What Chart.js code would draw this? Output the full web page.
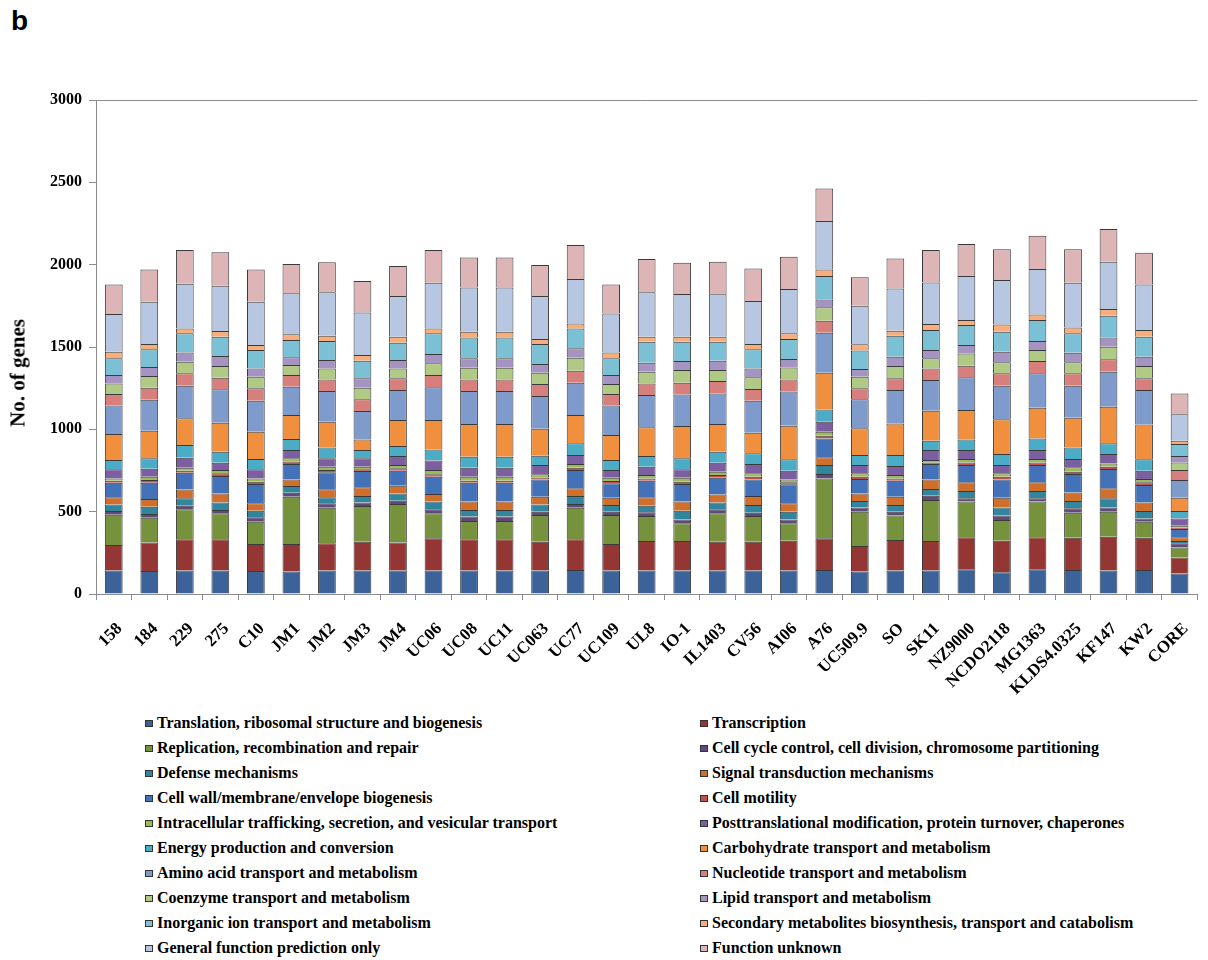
<!DOCTYPE html>
<html>
<head>
<meta charset="utf-8">
<script src="https://cdn.jsdelivr.net/npm/chart.js@4.4.1/dist/chart.umd.min.js"></script>
<style>
  html, body { margin:0; padding:0; background:#fff; overflow:hidden; width:1208px; height:960px; }
  #wrap { position:absolute; left:0; top:0; width:1213px; height:710px; }
  #tag { position:absolute; left:11px; top:5px; font:bold 28px "Liberation Sans", Arial, sans-serif; }
  #ytitle { position:absolute; left:18px; top:373px; transform:translate(-50%,-50%) rotate(-90deg);
            font:bold 21px "Liberation Serif", "Times New Roman", serif; white-space:nowrap; }
  #legend { position:absolute; left:145px; top:710px; display:grid; grid-template-columns:555px 500px;
            font:bold 16px "Liberation Serif", "Times New Roman", serif; }
  #legend div { height:25px; line-height:25px; white-space:nowrap; }
  #legend span.box { display:inline-block; width:6px; height:5px; border:1px solid #333;
                     margin-right:4px; vertical-align:middle; position:relative; top:-1px; }
</style>
</head>
<body>
<div id="tag">b</div>
<div id="wrap"><canvas id="stage" width="1213" height="710"></canvas></div>
<div id="ytitle">No. of genes</div>
<div id="legend"></div>
<script>
// strains
const strains = ['158','184','229','275','C10','JM1','JM2','JM3','JM4','UC06','UC08','UC11','UC063','UC77','UC109',
  'UL8','IO-1','IL1403','CV56','AI06','A76','UC509.9','SO','SK11','NZ9000','NCDO2118','MG1363','KLDS4.0325','KF147','KW2','CORE'];

// COG categories (bottom to top)
const translation = [142,140,142,142,140,136,142,142,142,142,142,142,142,146,142,142,142,142,142,142,146,136,142,142,150,132,150,146,142,146,125];
const transcription = [156,172,190,190,164,168,166,176,170,196,190,190,176,186,162,180,180,176,176,182,192,155,186,180,194,192,194,196,206,196,96];
const replication = [184,151,182,158,135,287,216,216,234,152,111,111,162,192,176,152,107,172,156,105,364,209,148,249,217,125,217,152,152,97,62];
const cellCycle = [22,23,22,20,27,24,27,21,21,24,27,27,20,22,20,22,24,24,20,24,27,26,24,26,20,27,20,26,26,20,25];
const defense = [40,44,45,45,40,41,36,40,44,47,40,40,44,49,40,40,53,41,46,47,54,39,40,41,44,50,44,45,55,45,14];
const signal = [43,47,53,56,45,40,49,53,47,46,51,51,47,47,45,51,55,50,55,51,47,46,51,58,53,59,53,52,61,51,22];
const cellWall = [89,99,103,106,117,93,103,99,91,105,115,115,105,111,87,101,107,101,101,115,115,87,97,93,105,111,105,112,117,107,51];
const motility = [12,16,12,16,14,15,14,10,14,15,12,12,12,14,14,14,14,17,16,12,16,14,14,10,16,16,16,14,14,16,8];
const intracellular = [14,20,18,20,20,20,20,16,20,26,24,24,19,22,20,21,24,20,21,18,25,21,21,15,21,21,21,26,20,20,12];
const posttrans = [55,49,61,44,55,50,51,51,55,57,55,55,56,55,47,50,51,54,56,53,60,50,54,60,54,50,54,51,57,51,44];
const energy = [57,63,77,67,63,67,65,50,61,68,67,67,57,71,61,65,67,67,65,69,75,61,67,57,65,67,71,69,65,69,45];
const carbohydrate = [158,168,162,176,166,146,157,65,158,179,198,198,164,172,151,174,196,168,126,204,223,162,192,182,178,211,186,182,222,212,81];
const aminoAcid = [172,188,198,203,188,172,187,172,182,198,201,201,198,196,179,196,192,186,194,207,243,176,203,186,199,204,209,194,213,209,107];
const nucleotide = [70,73,75,71,75,71,70,71,71,75,70,70,73,73,70,71,71,75,71,74,73,67,71,71,70,75,75,75,75,71,61];
const coenzyme = [65,71,71,70,71,60,67,71,60,71,71,71,69,79,61,71,77,67,71,73,81,71,74,61,75,67,67,67,77,74,46];
const lipid = [51,54,56,61,50,47,51,57,51,56,57,57,53,57,55,55,55,57,54,51,48,46,57,51,51,64,54,58,56,57,39];
const inorganic = [101,108,116,118,112,105,115,107,105,126,127,127,121,121,101,127,117,115,116,121,142,112,128,121,121,122,128,118,132,122,73];
const secondary = [40,32,30,34,30,35,33,34,37,30,35,35,30,30,36,31,31,31,32,35,40,38,30,36,31,44,34,36,41,40,20];
const general = [229,257,271,275,263,249,263,259,246,277,269,269,261,270,237,269,259,257,261,269,294,235,257,253,267,270,275,271,287,277,160];
const unknown = [180,196,205,203,196,178,182,191,183,199,182,182,189,206,176,202,190,198,198,196,198,172,182,197,194,186,203,203,198,193,127];

const yTicks = [0,500,1000,1500,2000,2500,3000];

const series = [
  ['Translation, ribosomal structure and biogenesis', translation, '#3b6399'],
  ['Transcription', transcription, '#943634'],
  ['Replication, recombination and repair', replication, '#76923c'],
  ['Cell cycle control, cell division, chromosome partitioning', cellCycle, '#604a7b'],
  ['Defense mechanisms', defense, '#31859c'],
  ['Signal transduction mechanisms', signal, '#d06f2c'],
  ['Cell wall/membrane/envelope biogenesis', cellWall, '#4472b9'],
  ['Cell motility', motility, '#c0504d'],
  ['Intracellular trafficking, secretion, and vesicular transport', intracellular, '#9bbb59'],
  ['Posttranslational modification, protein turnover, chaperones', posttrans, '#7b5fa0'],
  ['Energy production and conversion', energy, '#4bacc6'],
  ['Carbohydrate transport and metabolism', carbohydrate, '#f0903f'],
  ['Amino acid transport and metabolism', aminoAcid, '#7f9bcc'],
  ['Nucleotide transport and metabolism', nucleotide, '#d67f7d'],
  ['Coenzyme transport and metabolism', coenzyme, '#b0ca86'],
  ['Lipid transport and metabolism', lipid, '#a593c2'],
  ['Inorganic ion transport and metabolism', inorganic, '#7bc0d4'],
  ['Secondary metabolites biosynthesis, transport and catabolism', secondary, '#f8ae7c'],
  ['General function prediction only', general, '#b8c7e1'],
  ['Function unknown', unknown, '#deb5b6']
];

const serif = '"Liberation Serif", "Times New Roman", serif';
const axisGray = '#8c8c8c';

const chart = new Chart(document.getElementById('stage'), {
  type: 'bar',
  data: {
    labels: strains,
    datasets: series.map(s => ({
      label: s[0],
      data: s[1],
      backgroundColor: s[2],
      borderColor: '#3a3a3a',
      borderWidth: 1,
      barPercentage: 0.5,
      categoryPercentage: 1
    }))
  },
  options: {
    responsive: false,
    animation: false,
    devicePixelRatio: 1,
    layout: { padding: { top: 100, left: 0, right: 0, bottom: 0 } },
    plugins: { legend: { display: false }, tooltip: { enabled: false } },
    scales: {
      x: {
        stacked: true,
        border: { color: axisGray },
        grid: { drawOnChartArea: false, tickLength: 6, tickColor: axisGray },
        ticks: { color: '#000', font: { family: serif, size: 17, weight: 'bold' },
                 maxRotation: 45, minRotation: 45, autoSkip: false, padding: 19, labelOffset: 6 },
        afterFit: s => { s.height = 116; }
      },
      y: {
        stacked: true,
        min: 0, max: 3000,
        afterBuildTicks: s => { s.ticks = yTicks.map(v => ({ value: v })); },
        border: { color: axisGray },
        grid: { color: c => c.tick && c.tick.value === 3000 ? axisGray : 'rgba(0,0,0,0)',
                tickColor: axisGray, tickLength: 7 },
        ticks: { color: '#000', font: { family: serif, size: 16, weight: 'bold' }, padding: 7,
                 callback: v => String(v) },
        afterFit: s => { s.width = 96; }
      }
    }
  }
});

// legend (two columns, row-wise)
const legend = document.getElementById('legend');
chart.data.datasets.forEach(ds => {
  const d = document.createElement('div');
  d.innerHTML = '<span class="box" style="background:' + ds.backgroundColor + '"></span>' + ds.label;
  legend.appendChild(d);
});
</script>
</body>
</html>
